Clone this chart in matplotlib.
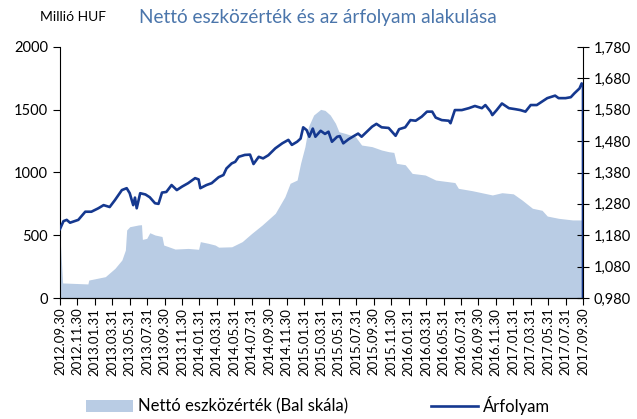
import numpy as np
import pandas as pd
import matplotlib
matplotlib.use('Agg')
import matplotlib.pyplot as plt
from matplotlib.ticker import FuncFormatter

plt.rcParams['font.family'] = ['Lato', 'DejaVu Sans']

# x position = months since 2012.09.30
tick_labels = [d.strftime('%Y.%m.%d') for d in pd.date_range('2012-09-30', '2017-09-30', freq='2ME')]
tick_pos = np.arange(0, 61, 2)

# Nettó eszközérték (millió HUF, bal skála)
nav_m = [0, 0.3, 3.2, 3.3, 5.2, 6.3, 7.1, 7.5, 7.65, 8.0, 9.0, 9.35, 9.45, 9.95, 10.3,
         10.9, 11.7, 11.9, 12.4, 13.2, 14.7, 15.9, 16.1, 17.0, 17.8, 18.2, 19.7, 20.9,
         22.0, 23.2, 24.7, 25.8, 26.4, 27.2, 27.6, 28.1, 28.5, 29.1, 29.9, 30.4, 31.0,
         31.6, 32.0, 32.7, 33.9, 34.6, 35.8, 36.9, 37.7, 38.3, 38.6, 39.6, 40.4, 41.9,
         43.1, 45.3, 45.7, 47.3, 49.6, 50.7, 52.0, 53.0, 54.2, 55.3, 55.9, 57.2, 58.8, 60.0]
nav = [490, 120, 112, 143, 170, 236, 303, 382, 542, 568, 582, 584, 467, 475, 520,
       502, 490, 422, 410, 390, 395, 388, 449, 436, 422, 405, 408, 449,
       515, 582, 675, 807, 914, 940, 1073, 1206, 1365, 1458, 1503, 1495, 1458,
       1392, 1325, 1312, 1285, 1219, 1206, 1179, 1166, 1160, 1073, 1062, 993, 980,
       940, 920, 874, 855, 821, 839, 830, 781, 715, 699, 653, 635, 622, 622]

# Árfolyam (jobb skála)
px_m = [0, 0.4, 0.77, 1.15, 2.1, 2.9, 3.6, 4.4, 5.0, 5.7, 6.3, 7.1, 7.65, 8.0, 8.4, 8.6,
        8.8, 9.2, 9.8, 10.3, 10.9, 11.3, 11.7, 12.2, 12.8, 13.4, 14.0, 14.7, 15.5, 15.9,
        16.1, 16.8, 17.4, 18.2, 18.75, 19.1, 19.7, 20.1, 20.5, 21.2, 21.8, 22.2, 22.8,
        23.3, 23.9, 24.7, 25.5, 26.2, 26.6, 27.2, 27.6, 27.9, 28.3, 28.6, 29.0, 29.3,
        29.9, 30.4, 30.8, 31.2, 31.8, 32.1, 32.5, 33.1, 33.7, 34.2, 34.6, 35.2, 35.8,
        36.3, 36.9, 37.7, 38.5, 38.9, 39.6, 40.2, 40.8, 41.5, 42.1, 42.7, 43.1, 43.8,
        44.6, 44.8, 45.3, 46.1, 46.9, 47.6, 48.4, 48.8, 49.4, 49.6, 50.1, 50.7, 51.5,
        52.2, 52.8, 53.4, 54.0, 54.7, 55.3, 55.9, 56.8, 57.2, 58.0, 58.6, 59.0, 59.6,
        59.85, 60.0, 60.0]
px = [1.200, 1.225, 1.229, 1.220, 1.229, 1.255, 1.255, 1.266, 1.276, 1.270, 1.292, 1.324,
      1.330, 1.314, 1.276, 1.300, 1.266, 1.314, 1.310, 1.301, 1.282, 1.280, 1.316, 1.318,
      1.340, 1.324, 1.335, 1.346, 1.362, 1.358, 1.330, 1.340, 1.346, 1.365, 1.372, 1.393,
      1.409, 1.414, 1.430, 1.436, 1.437, 1.407, 1.430, 1.425, 1.435, 1.457, 1.473, 1.484,
      1.468, 1.478, 1.488, 1.524, 1.515, 1.494, 1.520, 1.494, 1.513, 1.503, 1.510, 1.478,
      1.494, 1.496, 1.473, 1.486, 1.496, 1.504, 1.494, 1.510, 1.526, 1.535, 1.524, 1.522,
      1.497, 1.518, 1.524, 1.547, 1.545, 1.558, 1.574, 1.574, 1.555, 1.547, 1.545, 1.537,
      1.579, 1.579, 1.585, 1.592, 1.585, 1.595, 1.574, 1.563, 1.579, 1.600, 1.585, 1.582,
      1.579, 1.574, 1.595, 1.595, 1.606, 1.617, 1.625, 1.617, 1.617, 1.620, 1.632, 1.648,
      1.664, 1.655, 0.980]

area_col = '#b9cce4'
line_col = '#15388f'

fig = plt.figure(figsize=(6.37, 4.19), dpi=100)
ax = fig.add_axes([60/637, 1-298/419, 523/637, 251/419])
ax.fill_between(nav_m, nav, 0, color=area_col, lw=0, label='Nettó eszközérték (Bal skála)')
ax.set_xlim(0, 60)
ax.set_ylim(0, 2000)
ax.set_yticks([0, 500, 1000, 1500, 2000])
ax.set_xticks(tick_pos)
ax.set_xticklabels(tick_labels, rotation=90, fontsize=9.5)
ax.tick_params(axis='y', labelsize=10.5, direction='out', length=5)
ax.tick_params(axis='x', direction='out', length=5, pad=2)
ax.spines['top'].set_visible(False)
ax.spines['right'].set_visible(False)

ax2 = ax.twinx()
ax2.plot(px_m, px, color=line_col, lw=1.9, label='Árfolyam')
ax2.set_ylim(0.98, 1.78)
ax2.set_yticks(np.arange(0.98, 1.781, 0.1))
ax2.yaxis.set_major_formatter(FuncFormatter(lambda v, p: f'{v:.3f}'.replace('.', ',')))
ax2.tick_params(axis='y', labelsize=10.5, direction='inout', length=8)
ax2.spines['top'].set_visible(False)
ax2.spines['left'].set_visible(False)

fig.text(40/637, 1-17/419, 'Millió HUF', fontsize=10, va='center', ha='left')
fig.text(318/637, 1-18/419, 'Nettó eszközérték és az árfolyam alakulása', fontsize=13.7,
         color='#4a75ab', va='center', ha='center')

h1, l1 = ax.get_legend_handles_labels()
h2, l2 = ax2.get_legend_handles_labels()
fig.legend(h1 + h2, l1 + l2, loc='center', bbox_to_anchor=(318/637, 1-405/419), ncol=2,
           frameon=False, fontsize=12, handlelength=2.8, columnspacing=5.0, handletextpad=0.3)

fig.savefig('out.png', dpi=100)
